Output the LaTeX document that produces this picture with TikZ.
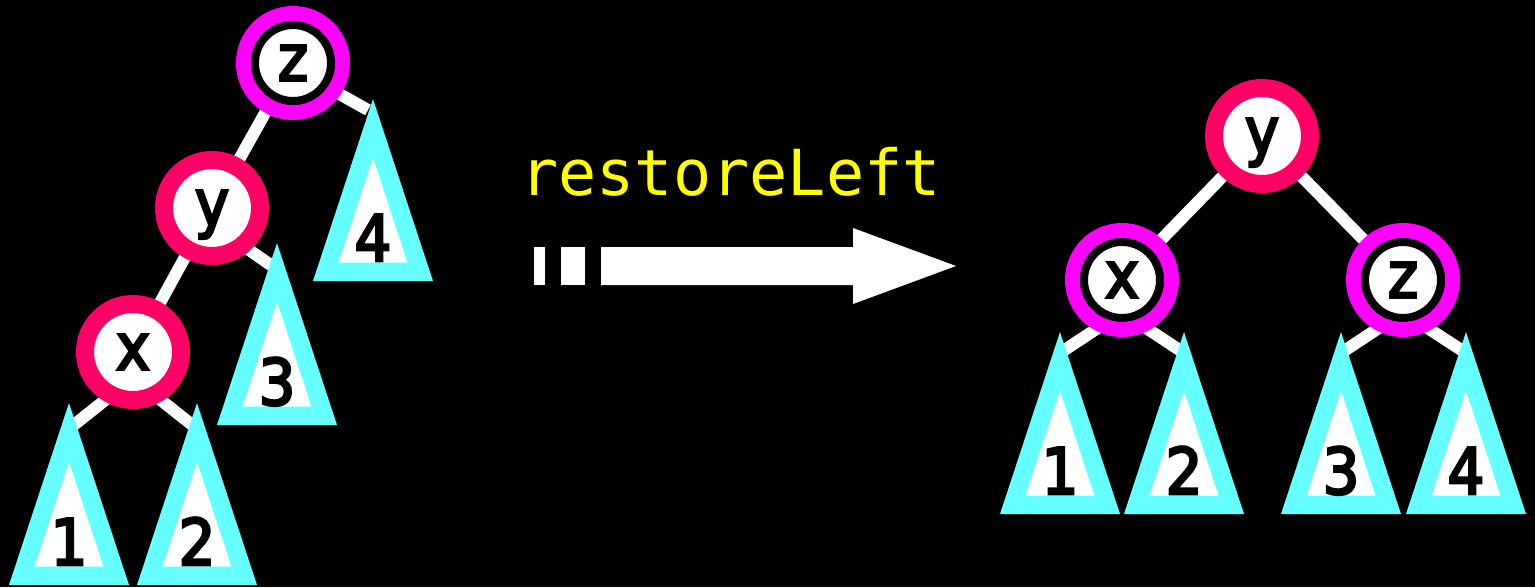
\documentclass[tikz,border=0pt]{standalone}
\usepackage{fontspec}
\setmainfont{DejaVu Sans Condensed}
\newfontfamily\lblfont{DejaVu Sans Condensed}[FakeBold=4]
\setmonofont{DejaVu Sans Mono}
\definecolor{cyanT}{HTML}{66FFFF}
\definecolor{redN}{HTML}{FF0066}
\definecolor{magN}{HTML}{FF00FF}
\definecolor{yelT}{HTML}{FFFF00}
\pgfdeclarelayer{bg}
\pgfdeclarelayer{edges}
\pgfsetlayers{bg,edges,main}
\newcommand\subtree[4]{%
  \fill[cyanT] (#2,#3) coordinate (#1) -- ++(-60,182) -- ++(120,0) -- cycle;
  \fill[white] (#2,#3+59) -- ++(-34.4,104.5) -- ++(68.8,0) -- cycle;
  \node[digit] (#1l) at (#2,#3+162) {#4};
}
\begin{document}
\begin{tikzpicture}[x=1pt,y=-1pt,
  letter/.style={font=\lblfont\fontsize{64}{70}\selectfont, text=black, text height=35pt, text depth=0pt, inner sep=0pt},
  rednode/.style={circle, letter, draw=redN, line width=18pt, fill=white, minimum size=96pt},
  magnode/.style={circle, letter, draw=black, line width=8pt, fill=white, minimum size=76pt},
  magring/.style={draw=magN, line width=15pt},
  digit/.style={font=\lblfont\fontsize{64}{70}\selectfont, text=black, anchor=base, inner sep=0pt},
  edge/.style={draw=white, line width=12pt},
  cmd/.style={font=\ttfamily\fontsize{63.5}{70}\selectfont, text=yelT, anchor=base west, inner sep=0pt}
]
\begin{pgfonlayer}{bg}
\fill[black] (0,0) rectangle (1535,587);
\end{pgfonlayer}
\useasboundingbox (0,0) rectangle (1535,587);

% left tree
\subtree{Lt4}{373}{99}{4}
\subtree{Lt3}{277}{243}{3}
\subtree{Lt1}{69}{403}{1}
\subtree{Lt2}{197}{403}{2}
\draw[magring] (293,63) circle[radius=49.5pt];
\node[magnode] (Lz) at (293,63) {z};
\node[rednode] (Ly) at (212,208) {y};
\node[rednode] (Lx) at (133,352) {x};

% right tree
\subtree{Rt1}{1060}{332}{1}
\subtree{Rt2}{1184}{332}{2}
\subtree{Rt3}{1341}{332}{3}
\subtree{Rt4}{1466}{332}{4}
\node[rednode] (Ry) at (1262,136) {y};
\draw[magring] (1122,280) circle[radius=49.5pt];
\node[magnode] (Rx) at (1122,280) {x};
\draw[magring] (1403,280) circle[radius=49.5pt];
\node[magnode] (Rz) at (1403,280) {z};

% label and arrow
\node[cmd] (lbl) at (520,195) {restoreLeft};
\fill[white] (534,247) rectangle (545,285);
\fill[white] (561,247) rectangle (585,285);
\fill[white] (601,247) -- (853,247) -- (853,228) -- (956,266) -- (853,304) -- (853,285) -- (601,285) -- cycle;

\begin{pgfonlayer}{edges}
\draw[edge] (Lz.center) -- (Ly.center);
\draw[edge] (Ly.center) -- (Lx.center);
\draw[edge] ([yshift=-5pt]Lz.center) -- ([xshift=-5pt,yshift=-11pt]Lt4);
\draw[edge] ([yshift=-16pt]Ly.center) -- ([xshift=-2pt,yshift=-25pt]Lt3);
\draw[edge] ([yshift=-26pt]Lx.center) -- ([xshift=1pt,yshift=-25pt]Lt1);
\draw[edge] ([yshift=-26pt]Lx.center) -- ([xshift=-1pt,yshift=-25pt]Lt2);
\draw[edge] (Ry.center) -- (Rx.center);
\draw[edge] (Ry.center) -- (Rz.center);
\draw[edge] ([yshift=-32pt]Rx.center) -- ([yshift=-21pt]Rt1);
\draw[edge] ([yshift=-32pt]Rx.center) -- ([yshift=-21pt]Rt2);
\draw[edge] ([yshift=-32pt]Rz.center) -- ([yshift=-21pt]Rt3);
\draw[edge] ([yshift=-32pt]Rz.center) -- ([yshift=-21pt]Rt4);
\end{pgfonlayer}
\end{tikzpicture}
\end{document}
